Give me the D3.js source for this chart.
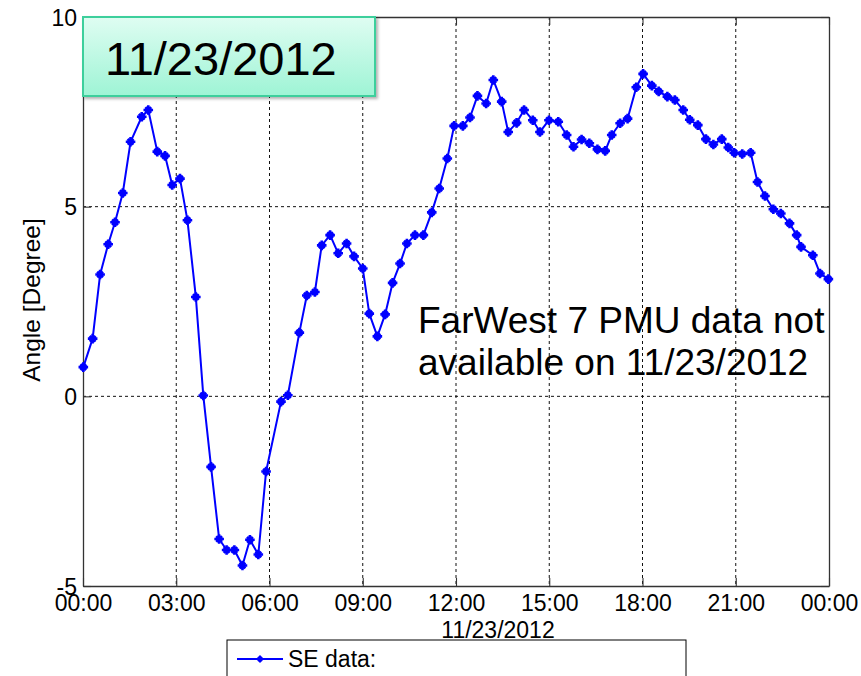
<!DOCTYPE html>
<html>
<head>
<meta charset="utf-8">
<script src="https://cdn.jsdelivr.net/npm/d3@7"></script>
<style>
  html, body { margin: 0; padding: 0; background: #fff; }
  svg { display: block; font-family: Arial, "Liberation Sans", sans-serif; }
</style>
</head>
<body>
<svg id="chart" width="861" height="676"></svg>
<script>
// ---- data (hours after 00:00 on 11/23/2012, angle in degrees) ----
const hours = [
  0.01, 0.31, 0.55, 0.81, 1.03, 1.28, 1.53, 1.89, 2.10, 2.39, 2.64, 2.87, 3.12, 3.36, 3.63, 3.87,
  4.12, 4.38, 4.62, 4.87, 5.13, 5.37, 5.64, 5.89, 6.37, 6.59,
  6.96, 7.20, 7.46, 7.68, 7.95, 8.21, 8.48, 8.72, 9.00,
  9.21, 9.47, 9.72, 9.96, 10.20, 10.42, 10.68, 10.95,
  11.22, 11.46, 11.72, 11.94, 12.22, 12.45, 12.69, 12.97,
  13.20, 13.47, 13.68, 13.95, 14.19, 14.47, 14.70, 14.99,
  15.29, 15.56, 15.78, 16.04, 16.29, 16.55, 16.80, 17.01,
  17.28, 17.52, 17.80, 18.02, 18.30, 18.52, 18.80,
  19.04, 19.31, 19.52, 19.78, 20.04, 20.28, 20.55, 20.76, 20.95, 21.21, 21.48,
  21.70, 21.94, 22.21, 22.45, 22.73, 22.96, 23.10, 23.48, 23.71, 23.98
];
const angles = [
  0.77, 1.52, 3.21, 4.01, 4.59, 5.36, 6.71, 7.37, 7.55, 6.45, 6.34, 5.57, 5.74, 4.64, 2.62, 0.02,
  -1.86, -3.76, -4.05, -4.05, -4.46, -3.78, -4.17, -1.98, -0.14, 0.03,
  1.68, 2.66, 2.75, 3.98, 4.25, 3.77, 4.03, 3.69, 3.37,
  2.18, 1.58, 2.16, 2.99, 3.50, 4.03, 4.25, 4.25,
  4.85, 5.48, 6.27, 7.13, 7.13, 7.35, 7.92, 7.72,
  8.34, 7.77, 6.97, 7.21, 7.55, 7.28, 6.97, 7.28,
  7.24, 6.89, 6.58, 6.77, 6.67, 6.51, 6.47, 6.89,
  7.20, 7.32, 8.15, 8.50, 8.19, 8.04, 7.90,
  7.81, 7.55, 7.29, 7.15, 6.78, 6.64, 6.78, 6.56, 6.42, 6.39, 6.42,
  5.65, 5.28, 4.93, 4.82, 4.56, 4.25, 3.94, 3.72, 3.24, 3.09
];
const xTickValues = [0, 3, 6, 9, 12, 15, 18, 21, 24];
const xTickLabels = ["00:00", "03:00", "06:00", "09:00", "12:00", "15:00", "18:00", "21:00", "00:00"];
const yTickValues = [-5, 0, 5, 10];
const yTickLabels = ["-5", "0", "5", "10"];
const titleText = "11/23/2012";
const xLabel = "11/23/2012";
const yLabel = "Angle [Degree]";
const noteLines = ["FarWest 7 PMU data not", "available on 11/23/2012"];
const legendLabel = "SE data:";

// ---- layout ----
const L = 83, R = 829, T = 17, B = 586;
const svg = d3.select("#chart");
const x = d3.scaleLinear().domain([0, 24]).range([L, R]);
const y = d3.scaleLinear().domain([-5, 10]).range([B, T]);

const data = hours.map((h, i) => ({ h, v: angles[i] }));

// grid (dotted)
const grid = svg.append("g").attr("stroke", "#111").attr("stroke-width", 1)
  .attr("stroke-dasharray", "3,3");
xTickValues.slice(1, -1).forEach(t => {
  grid.append("line").attr("x1", x(t)).attr("x2", x(t)).attr("y1", T).attr("y2", B);
});
yTickValues.slice(1, -1).forEach(t => {
  grid.append("line").attr("x1", L).attr("x2", R).attr("y1", y(t)).attr("y2", y(t));
});

// axes with inward ticks (MATLAB style)
const fmtX = d => xTickLabels[xTickValues.indexOf(d)];
const fmtY = d => yTickLabels[yTickValues.indexOf(d)];
const axB = svg.append("g").attr("transform", `translate(0,${B})`)
  .call(d3.axisBottom(x).tickValues(xTickValues).tickFormat(fmtX).tickSizeInner(-8).tickSizeOuter(0).tickPadding(9));
const axT = svg.append("g").attr("transform", `translate(0,${T})`)
  .call(d3.axisTop(x).tickValues(xTickValues).tickFormat("").tickSizeInner(-8).tickSizeOuter(0));
const axL = svg.append("g").attr("transform", `translate(${L},0)`)
  .call(d3.axisLeft(y).tickValues(yTickValues).tickFormat(fmtY).tickSizeInner(-8).tickSizeOuter(0).tickPadding(6));
const axR = svg.append("g").attr("transform", `translate(${R},0)`)
  .call(d3.axisRight(y).tickValues(yTickValues).tickFormat("").tickSizeInner(-8).tickSizeOuter(0));
[axB, axT, axL, axR].forEach(a => {
  a.select(".domain").attr("stroke", "#333").attr("stroke-width", 1.3);
  a.selectAll(".tick line").attr("stroke", "#333").attr("stroke-width", 1.1);
  a.selectAll("text").attr("fill", "#000").attr("font-size", 23)
    .attr("font-family", "Arial, 'Liberation Sans', sans-serif");
});
axB.selectAll("text").attr("dy", "0.71em");
axL.selectAll("text").attr("dy", "0.35em");

// axis labels
svg.append("text").attr("x", (L + R) / 2 + 42).attr("y", 638).attr("text-anchor", "middle")
  .attr("font-size", 23).text(xLabel);
svg.append("text").attr("transform", `translate(40,300) rotate(-90)`).attr("text-anchor", "middle")
  .attr("font-size", 24.5).text(yLabel);

// line + markers
const line = d3.line().x(d => x(d.h)).y(d => y(d.v));
svg.append("path").datum(data).attr("d", line).attr("fill", "none")
  .attr("stroke", "#0000ff").attr("stroke-width", 2).attr("stroke-linejoin", "round");

function star(r) {
  const d = r * 0.6;
  return `M${-r},0L${r},0M0,${-r}L0,${r}M${-d},${-d}L${d},${d}M${-d},${d}L${d},${-d}`;
}
svg.append("g").selectAll("path").data(data).join("path")
  .attr("transform", d => `translate(${x(d.h)},${y(d.v)})`)
  .attr("d", star(4.8)).attr("stroke", "#0000ff").attr("stroke-width", 2.6).attr("fill", "none");

// note text
const note = svg.append("text").attr("font-size", 37).attr("fill", "#000");
noteLines.forEach((s, i) => {
  note.append("tspan").attr("x", 418).attr("y", 333 + i * 42).text(s);
});

// title box
const defs = svg.append("defs");
const grad = defs.append("linearGradient").attr("id", "tg").attr("x1", 0).attr("y1", 0).attr("x2", 0).attr("y2", 1);
grad.append("stop").attr("offset", "0%").attr("stop-color", "#dffdf2");
grad.append("stop").attr("offset", "100%").attr("stop-color", "#9ef4d5");
const flt = defs.append("filter").attr("id", "sh").attr("x", "-10%").attr("y", "-10%").attr("width", "130%").attr("height", "140%");
flt.append("feDropShadow").attr("dx", 2).attr("dy", 2).attr("stdDeviation", 1.5).attr("flood-color", "#000").attr("flood-opacity", 0.3);
svg.append("rect").attr("x", 83).attr("y", 17).attr("width", 292).attr("height", 79)
  .attr("fill", "url(#tg)").attr("stroke", "#3ccf9c").attr("stroke-width", 2).attr("filter", "url(#sh)");
svg.append("text").attr("x", 105).attr("y", 75).attr("font-size", 47).attr("fill", "#000").text(titleText);

// legend
svg.append("rect").attr("x", 227).attr("y", 640).attr("width", 459).attr("height", 60)
  .attr("fill", "#fff").attr("stroke", "#000").attr("stroke-width", 1);
svg.append("line").attr("x1", 237).attr("x2", 283).attr("y1", 659).attr("y2", 659)
  .attr("stroke", "#0000ff").attr("stroke-width", 2);
svg.append("path").attr("transform", "translate(260,659)").attr("d", star(3.5))
  .attr("stroke", "#0000ff").attr("stroke-width", 2);
svg.append("text").attr("x", 288).attr("y", 667).attr("font-size", 23).text(legendLabel);
</script>
</body>
</html>
